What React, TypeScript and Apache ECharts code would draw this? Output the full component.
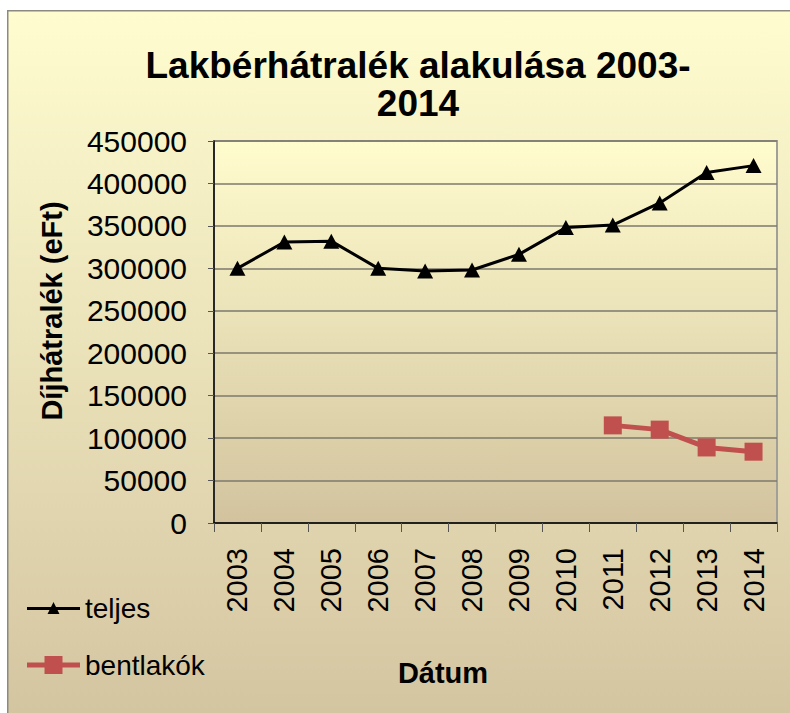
import React, { useEffect, useRef } from "react";
import * as echarts from "echarts";

const years = ["2003", "2004", "2005", "2006", "2007", "2008", "2009", "2010", "2011", "2012", "2013", "2014"];
const teljes = [300000, 331000, 332000, 300000, 297000, 298000, 316500, 348000, 351000, 377000, 413000, 421000];
const bentlakok = [null, null, null, null, null, null, null, null, 115000, 110000, 89000, 84000];
const yMin = 0;
const yMax = 450000;
const yStep = 50000;

const titleText = "Lakbérhátralék alakulása 2003-\n2014";
const yName = "Díjhátralék (eFt)";
const xName = "Dátum";
const seriesNames = ["teljes", "bentlakók"];

const FONT = "'Liberation Sans', Arial, sans-serif";

const iconTeljes = "path://M0,5 H53 V8 H0 Z M26.5,0 L32.5,12 L20.5,12 Z";
const iconBent = "path://M0,6.5 H17.5 V0 H35.5 V6.5 H53 V11.5 H35.5 V18 H17.5 V11.5 H0 Z";

export default function App() {
  const ref = useRef<HTMLDivElement>(null);
  useEffect(() => {
    if (!ref.current) return;
    const chart = echarts.init(ref.current, null, { renderer: "svg" });
    chart.setOption({
      animation: false,
      backgroundColor: new echarts.graphic.LinearGradient(0, 0, 0, 1, [
        { offset: 0, color: "#FFFDD0" },
        { offset: 1, color: "#D4C5A1" },
      ]),
      grid: {
        left: 207,
        top: 131,
        right: 13,
        bottom: 190,
        show: true,
        backgroundColor: new echarts.graphic.LinearGradient(0, 0, 0, 1, [
          { offset: 0, color: "#FFFCCE" },
          { offset: 1, color: "#D2C39E" },
        ]),
        borderColor: "#a09f98",
        borderWidth: 2,
      },
      legend: [
        {
          data: [{ name: seriesNames[0], icon: iconTeljes }],
          left: 15,
          top: 579,
          itemWidth: 53,
          itemHeight: 12,
          textStyle: { fontSize: 28, fontFamily: FONT, color: "#000" },
        },
        {
          data: [{ name: seriesNames[1], icon: iconBent }],
          left: 15,
          top: 636,
          itemWidth: 53,
          itemHeight: 18,
          textStyle: { fontSize: 28, fontFamily: FONT, color: "#000" },
        },
      ],
      xAxis: {
        type: "category",
        data: years,
        boundaryGap: true,
        axisLine: { show: true, lineStyle: { color: "#000", width: 1.5 } },
        axisTick: { show: true, length: 9, lineStyle: { color: "#555" } },
        axisLabel: { rotate: 90, fontSize: 29, margin: 25, color: "#000", fontFamily: FONT },
        splitLine: { show: false },
      },
      yAxis: {
        type: "value",
        min: yMin,
        max: yMax,
        interval: yStep,
        axisLine: { show: true, lineStyle: { color: "#000", width: 1.5 } },
        axisTick: { show: true, length: 6, lineStyle: { color: "#555" } },
        axisLabel: {
          fontSize: 30,
          margin: 27,
          color: "#000",
          fontFamily: FONT,
          formatter: (v: number) => String(v),
        },
        splitLine: { show: true, lineStyle: { color: "#7d786c", width: 1.5 } },
      },
      graphic: [
        {
          type: "rect",
          silent: true,
          shape: { x: 0.75, y: 0.75, width: 1000, height: 1000 },
          style: { fill: "none", stroke: "#8a8a80", lineWidth: 1.5 },
          z: 100,
        },
        {
          type: "text",
          x: 411,
          y: 74,
          style: {
            text: titleText,
            fontSize: 37,
            fontWeight: "bold",
            fontFamily: FONT,
            fill: "#000",
            align: "center",
            verticalAlign: "middle",
            lineHeight: 38,
          },
        },
        {
          type: "text",
          x: 45,
          y: 301,
          rotation: Math.PI / 2,
          style: {
            text: yName,
            fontSize: 29,
            fontWeight: "bold",
            fontFamily: FONT,
            fill: "#000",
            align: "center",
            verticalAlign: "middle",
          },
        },
        {
          type: "text",
          x: 436,
          y: 663,
          style: {
            text: xName,
            fontSize: 29,
            fontWeight: "bold",
            fontFamily: FONT,
            fill: "#000",
            align: "center",
            verticalAlign: "middle",
          },
        },
      ],
      series: [
        {
          name: seriesNames[0],
          type: "line",
          data: teljes,
          symbol: "triangle",
          symbolSize: [16, 15],
          lineStyle: { color: "#000", width: 3 },
          itemStyle: { color: "#000" },
          z: 3,
        },
        {
          name: seriesNames[1],
          type: "line",
          data: bentlakok,
          symbol: "rect",
          symbolSize: 18,
          lineStyle: { color: "#C0504D", width: 5 },
          itemStyle: { color: "#C0504D" },
          z: 4,
        },
      ],
    });
    return () => chart.dispose();
  }, []);
  return (
    <div
      ref={ref}
      style={{ position: "absolute", left: 7, top: 10, width: 783, height: 703 }}
    />
  );
}
